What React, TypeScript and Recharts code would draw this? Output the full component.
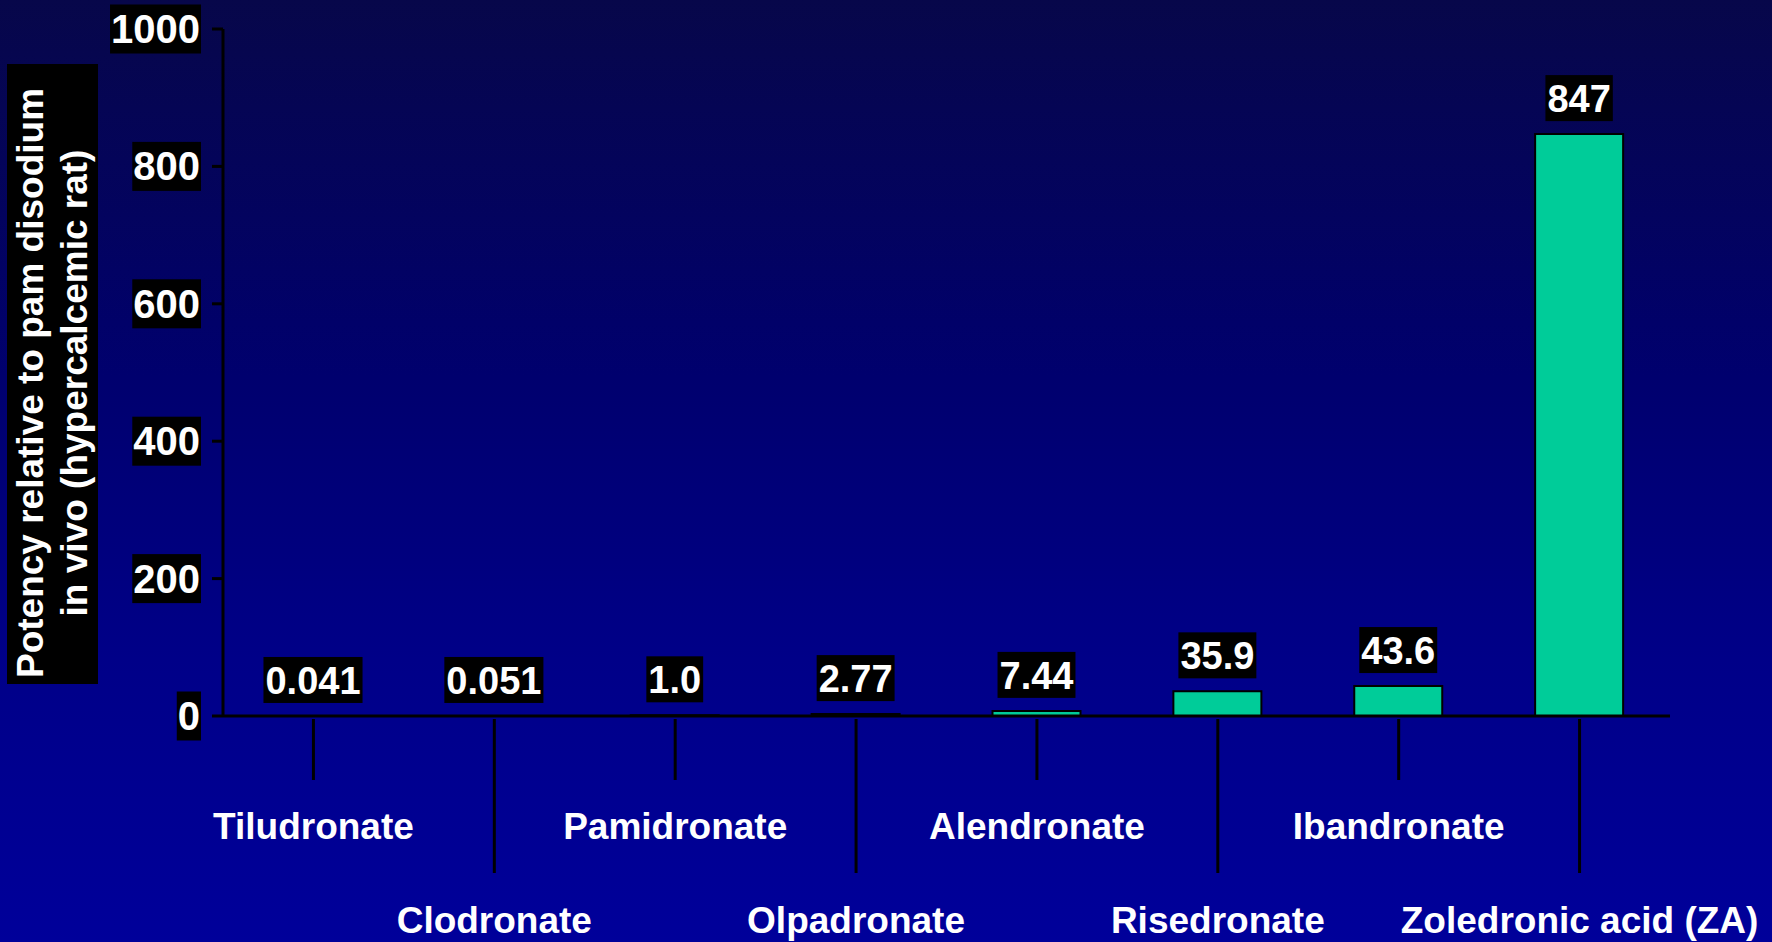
import React from 'react';
import { BarChart, Bar, XAxis, YAxis, LabelList } from 'recharts';

const categories = ['Tiludronate', 'Clodronate', 'Pamidronate', 'Olpadronate', 'Alendronate', 'Risedronate', 'Ibandronate', 'Zoledronic acid (ZA)'];
const potency = [0.041, 0.051, 1.0, 2.77, 7.44, 35.9, 43.6, 847];
const valueLabels = ['0.041', '0.051', '1.0', '2.77', '7.44', '35.9', '43.6', '847'];
const yTicks = [0, 200, 400, 600, 800, 1000];
const yTitleLines = ['Potency relative to pam disodium', 'in vivo (hypercalcemic rat)'];

const data = categories.map((name, i) => ({ name, value: potency[i], label: valueLabels[i] }));

const FONT = 'Arial, "Liberation Sans", Helvetica, sans-serif';

const textWidth = (s: string, size: number) => {
  let w = 0;
  for (const ch of s) w += ch === '.' ? 0.278 : 0.556;
  return w * size;
};

const YTick = (props: any) => {
  const { x, y, payload } = props;
  const s = String(payload.value);
  const fs = 40;
  const w = textWidth(s, fs);
  const right = x - 12;
  return (
    <g>
      <rect x={right - w - 1} y={y - 24.5} width={w + 2} height={49} fill="#000" />
      <text x={right} y={y + 14} textAnchor="end" fill="#fff" fontFamily={FONT} fontWeight="bold" fontSize={fs}>{s}</text>
    </g>
  );
};

const XTick = (props: any) => {
  const { x, y, payload, index } = props;
  const long = index % 2 === 1;
  return (
    <g>
      <line x1={x} x2={x} y1={y + 3} y2={y + (long ? 157 : 64)} stroke="#000" strokeWidth={3} />
      <text x={x} y={y + (long ? 217 : 123)} textAnchor="middle" fill="#fff" fontFamily={FONT} fontWeight="bold" fontSize={37}>{payload.value}</text>
    </g>
  );
};

const ValueLabel = (props: any) => {
  const { x, y, width, value } = props;
  const s = String(value);
  const fs = 38;
  const w = textWidth(s, fs);
  const cx = x + width / 2;
  const boxBottom = y - 13;
  const boxTop = boxBottom - 46;
  return (
    <g>
      <rect x={cx - w / 2 - 2} y={boxTop} width={w + 4} height={46} fill="#000" />
      <text x={cx} y={boxTop + 37} textAnchor="middle" fill="#fff" fontFamily={FONT} fontWeight="bold" fontSize={fs}>{s}</text>
    </g>
  );
};

const YTitle = () => (
  <g transform="translate(53,383) rotate(-90)">
    <rect x={-301} y={-46} width={620} height={91} fill="#000" />
    <text x={0} y={-10} textAnchor="middle" fill="#fff" fontFamily={FONT} fontWeight="bold" fontSize={37}>{yTitleLines[0]}</text>
    <text x={0} y={34} textAnchor="middle" fill="#fff" fontFamily={FONT} fontWeight="bold" fontSize={37}>{yTitleLines[1]}</text>
  </g>
);

export default function App() {
  return (
    <div
      style={{
        position: 'fixed',
        left: 0,
        top: 0,
        width: 1772,
        height: 942,
        background: 'linear-gradient(to bottom, #07074a 0%, #00006e 40%, #000088 70%, #00009a 100%)',
        overflow: 'hidden',
      }}
    >
      <BarChart
        width={1772}
        height={942}
        data={data}
        margin={{ top: 29, right: 102, bottom: 0, left: 0 }}
        barCategoryGap={0}
      >
        <XAxis
          dataKey="name"
          height={226}
          axisLine={{ stroke: '#000', strokeWidth: 3 }}
          tickLine={false}
          tickSize={0}
          tickMargin={0}
          interval={0}
          tick={<XTick />}
        />
        <YAxis
          width={223}
          domain={[0, 1000]}
          ticks={yTicks}
          interval={0}
          axisLine={{ stroke: '#000', strokeWidth: 3 }}
          tickLine={{ stroke: '#000', strokeWidth: 3 }}
          tickSize={11}
          tickMargin={0}
          tick={<YTick />}
          label={<YTitle />}
        />
        <Bar dataKey="value" fill="#00CC99" stroke="#000" strokeWidth={2} barSize={88} isAnimationActive={false}>
          <LabelList dataKey="label" content={<ValueLabel />} />
        </Bar>
      </BarChart>
    </div>
  );
}
